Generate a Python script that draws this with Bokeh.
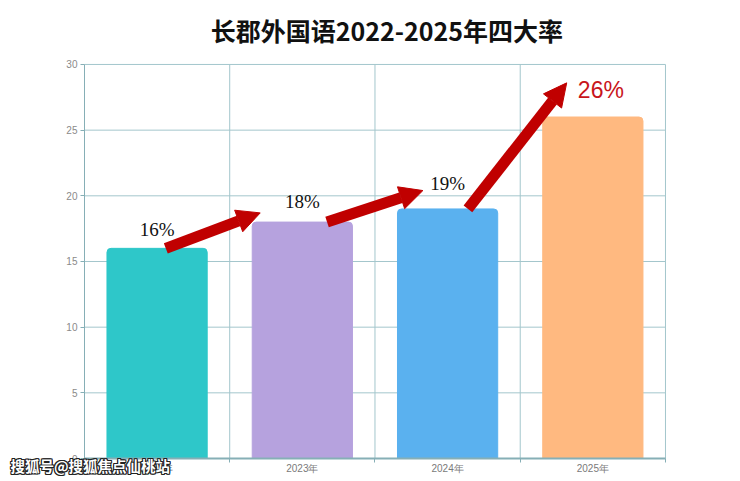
from bokeh.plotting import figure
from bokeh.models import (FixedTicker, Range1d, Arrow, NormalHead, Label,
                          ColumnDataSource)
from bokeh.core.properties import value
from bokeh.embed import file_html
from bokeh.resources import INLINE

# ---- data ----
years = ["2022年", "2023年", "2024年", "2025年"]
rates = [16, 18, 19, 26]
rate_labels = ["16%", "18%", "19%", "26%"]
y_ticks = [0, 5, 10, 15, 20, 25, 30]
title_text = "长郡外国语2022-2025年四大率"
watermark = "搜狐号@搜狐焦点仙桃站"

# ---- styles ----
bar_colors = ["#2ec7c9", "#b6a2de", "#5ab1ef", "#ffb980"]
grid_color = "#a3c6cc"
axis_color = "#86afb6"
arrow_color = "#c00000"

n = len(years)
y_max = y_ticks[-1]
centers = [i + 0.5 for i in range(n)]

# the frame covers the whole canvas height and reaches the left edge so that
# the title and the corner watermark are not clipped; the axes sit at
# x=0 / y=0 via fixed_location
p = figure(width=740, height=481, output_backend="svg", toolbar_location=None,
           x_range=Range1d(-0.578, n + 0.007),
           y_range=Range1d(-1.75, y_max + 4.87),
           min_border_left=0, min_border_right=74, min_border_top=0,
           min_border_bottom=0)
p.title.visible = False
p.outline_line_color = None
p.background_fill_color = "white"
p.xgrid.visible = False
p.ygrid.visible = False

# title
p.add_layout(Label(x=n / 2, y=y_max, x_offset=12, y_offset=34,
                   text=title_text, text_align="center",
                   text_baseline="middle", text_font="Noto Sans CJK SC",
                   text_font_size="25px", text_font_style="bold",
                   text_color="#111111"))

# grid lines (limited to the plotting area)
p.segment(x0=[0] * len(y_ticks), x1=[n] * len(y_ticks), y0=y_ticks, y1=y_ticks,
          line_color=grid_color, line_width=1)
p.segment(x0=list(range(1, n + 1)), x1=list(range(1, n + 1)),
          y0=[0] * n, y1=[y_max] * n, line_color=grid_color, line_width=1)

# bars
src = ColumnDataSource(dict(x=centers, top=rates, color=bar_colors,
                            label=rate_labels))
p.vbar(x="x", top="top", bottom=0, width=0.69, color="color", source=src,
       border_radius=(4, 4, 0, 0))

# y axis
p.yaxis.fixed_location = 0
p.yaxis.bounds = (0, y_max)
p.yaxis.ticker = FixedTicker(ticks=y_ticks)
p.yaxis.axis_line_color = axis_color
p.yaxis.major_tick_line_color = axis_color
p.yaxis.major_tick_out = 4
p.yaxis.major_tick_in = 0
p.yaxis.minor_tick_line_color = None
p.yaxis.major_label_text_color = "#8a8a8a"
p.yaxis.major_label_text_font = "Liberation Sans"
p.yaxis.major_label_text_font_size = "10px"
p.yaxis.major_label_standoff = 3

# x axis: labels at centers, ticks at boundaries
p.xaxis.fixed_location = 0
p.xaxis.bounds = (0, n)
p.xaxis.ticker = FixedTicker(ticks=centers,
                             minor_ticks=[float(i) for i in range(n + 1)])
p.xaxis.major_label_overrides = {c: y for c, y in zip(centers, years)}
p.xaxis.axis_line_color = axis_color
p.xaxis.axis_line_width = 2
p.xaxis.major_tick_line_color = None
p.xaxis.major_tick_out = 0
p.xaxis.major_tick_in = 0
p.xaxis.minor_tick_line_color = axis_color
p.xaxis.minor_tick_out = 4
p.xaxis.minor_tick_in = 0
p.xaxis.major_label_text_color = "#7a7a7a"
p.xaxis.major_label_text_font = "Liberation Sans"
p.xaxis.major_label_text_font_size = "10px"
p.xaxis.major_label_standoff = 0

# value labels
lab_dx = [0, 0, 0, 8]
lab_dy = [-19, -21, -25, -27]
for i in range(n):
    last = i == n - 1
    p.text(x=[centers[i]], y=[rates[i]], text=[rate_labels[i]],
           x_offset=lab_dx[i], y_offset=lab_dy[i],
           text_align="center", text_baseline="middle",
           text_font=value("Liberation Sans" if last else "Liberation Serif"),
           text_font_size="23px" if last else "19px",
           text_color="#c8151b" if last else "#111111")

# arrows between bars
tail_dx = [0.06, 0.17, 0.14]
tip_dx = [0.71, 0.83, 0.82]
tip_lift = [0.7, 1.4, 2.6]
for i in range(n - 1):
    p.add_layout(Arrow(
        x_start=centers[i] + tail_dx[i], y_start=rates[i],
        x_end=centers[i] + tip_dx[i], y_end=rates[i + 1] + tip_lift[i],
        line_color=arrow_color, line_width=11, line_cap="butt",
        end=NormalHead(size=23, fill_color=arrow_color,
                       line_color=arrow_color, line_width=1)))

# watermark (white text, dark outline)
offs = [(-1, 0), (1, 0), (0, -1), (0, 1), (-1, -1), (1, 1), (-1, 1), (1, -1)]
for dx, dy in offs + [(0, 0)]:
    p.add_layout(Label(x=0, y=0, x_offset=-74 + dx, y_offset=-7 + dy,
                       text=watermark, text_font="Noto Sans CJK SC",
                       text_font_size="14.5px", text_font_style="bold",
                       text_baseline="middle",
                       text_color="white" if (dx, dy) == (0, 0) else "#222222"))

open("out.html", "w").write(file_html(p, INLINE))
